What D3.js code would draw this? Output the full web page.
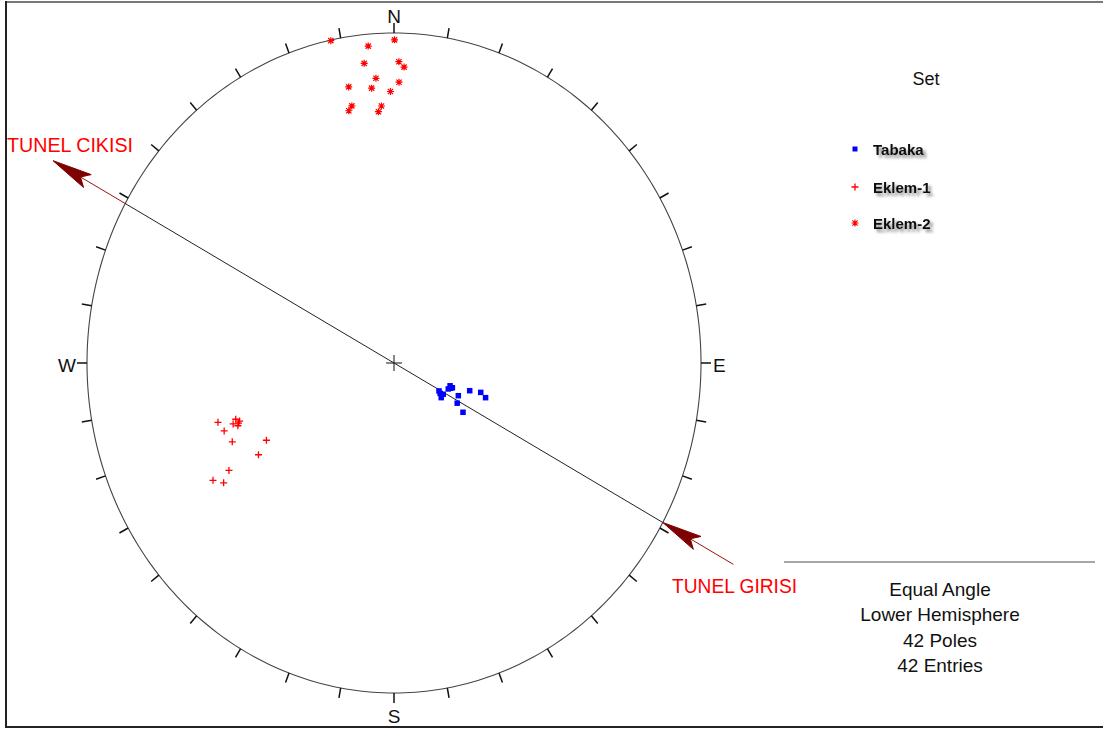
<!DOCTYPE html>
<html>
<head>
<meta charset="utf-8">
<script src="https://cdn.jsdelivr.net/npm/d3@7"></script>
<style>
  html, body { margin: 0; padding: 0; background: #fff; }
  svg { display: block; font-family: "Liberation Sans", Arial, sans-serif; }
</style>
</head>
<body>
<svg id="chart" width="1103" height="729"></svg>
<script>
// ---- Data (trend, plunge of poles, degrees) ----
const tabakaTrend  = [120.0, 120.6, 124.3, 110.7, 111.5, 114.0, 115.3, 120.6, 108.8, 107.5, 109.4, 123.6, 112.5, 121.5];
const tabakaPlunge = [70.8, 68.9, 68.9, 67.9, 66.9, 68.1, 63.9, 63.1, 60.8, 57.0, 54.9, 59.8, 67.4, 70.0];

const eklem1Trend  = [252.6, 251.7, 250.7, 250.6, 249.5, 249.6, 245.6, 240.6, 237.8, 238.8, 238.9, 236.8, 250.2];
const eklem1Plunge = [28.0, 33.0, 33.9, 31.9, 33.0, 28.9, 29.9, 39.0, 34.9, 25.7, 20.9, 22.9, 33.4];

const eklem2Trend  = [348.1, 355.0, 0.1, 353.9, 1.0, 2.1, 356.1, 1.1, 350.0, 355.0, 359.2, 350.0, 349.1, 357.0, 356.2];
const eklem2Plunge = [0.1, 2.1, 1.2, 5.2, 5.2, 6.2, 8.3, 9.2, 9.3, 10.2, 11.1, 13.3, 14.2, 14.1, 15.3];

const tunnelTrend = 118.9; // tunnel axis (entry side)
const tickTrends = d3.range(0, 360, 10);
const cardinalLabels = ["N", "E", "S", "W"];
const cardinalTrends = [0, 90, 180, 270];
const legendNames = ["Tabaka", "Eklem-1", "Eklem-2"];
const infoLines = ["Equal Angle", "Lower Hemisphere", "42 Poles", "42 Entries"];
const arrowLabels = ["TUNEL CIKISI", "TUNEL GIRISI"];

// ---- Layout ----
const cx = 394, cy = 363, rx = 307, ry = 330;
const svg = d3.select("#chart");
const xS = d3.scaleLinear().domain([-1, 1]).range([cx - rx, cx + rx]);
const yS = d3.scaleLinear().domain([-1, 1]).range([cy + ry, cy - ry]);
const rad = d => d * Math.PI / 180;
function project(trend, plunge) {
  const r = Math.tan(rad(90 - plunge) / 2); // equal angle
  return [xS(r * Math.sin(rad(trend))), yS(r * Math.cos(rad(trend)))];
}

// defs: text shadow
const defs = svg.append("defs");
const f = defs.append("filter").attr("id", "shadow").attr("x", "-20%").attr("y", "-50%").attr("width", "150%").attr("height", "220%");
f.append("feDropShadow").attr("dx", 3).attr("dy", 3).attr("stdDeviation", 1.6)
  .attr("flood-color", "#000").attr("flood-opacity", 0.45);

// frame
svg.append("line").attr("x1", 6).attr("y1", 2).attr("x2", 1103).attr("y2", 2).attr("stroke", "#777").attr("stroke-width", 2);
svg.append("line").attr("x1", 6).attr("y1", 1).attr("x2", 6).attr("y2", 728).attr("stroke", "#222").attr("stroke-width", 2);
svg.append("line").attr("x1", 6).attr("y1", 727).attr("x2", 1103).attr("y2", 727).attr("stroke", "#222").attr("stroke-width", 2);

// primitive circle
const prim = d3.range(0, 361, 1).map(t => project(t, 0));
svg.append("path").attr("d", d3.line()(prim)).attr("fill", "none").attr("stroke", "#444").attr("stroke-width", 1.1);

// ticks
const L = 10;
svg.append("g").selectAll("line").data(tickTrends).join("line")
  .attr("x1", t => xS(Math.sin(rad(t))))
  .attr("y1", t => yS(Math.cos(rad(t))))
  .attr("x2", t => xS(Math.sin(rad(t)) * (1 + L / rx)))
  .attr("y2", t => yS(Math.cos(rad(t)) * (1 + L / ry)))
  .attr("stroke", "#111").attr("stroke-width", 1.5);

// cardinal labels
const cardPos = [
  { x: xS(0), y: yS(1) - 10, anchor: "middle" },
  { x: xS(1) + 12, y: cy + 9, anchor: "start" },
  { x: xS(0), y: yS(-1) + 30, anchor: "middle" },
  { x: xS(-1) - 11, y: cy + 9, anchor: "end" }
];
svg.append("g").selectAll("text").data(cardinalLabels).join("text")
  .attr("x", (d, i) => cardPos[i].x).attr("y", (d, i) => cardPos[i].y)
  .attr("text-anchor", (d, i) => cardPos[i].anchor)
  .attr("font-size", 19).attr("fill", "#111").text(d => d);

// center cross
svg.append("line").attr("x1", cx - 8).attr("x2", cx + 8).attr("y1", cy).attr("y2", cy).attr("stroke", "#111");
svg.append("line").attr("x1", cx).attr("x2", cx).attr("y1", cy - 8).attr("y2", cy + 8).attr("stroke", "#111");

// tunnel axis
const pIn = project(tunnelTrend, 0);
const pOut = project(tunnelTrend + 180, 0);
svg.append("line").attr("x1", pOut[0]).attr("y1", pOut[1]).attr("x2", pIn[0]).attr("y2", pIn[1])
  .attr("stroke", "#222").attr("stroke-width", 1);

const dx = pIn[0] - cx, dy = pIn[1] - cy, dl = Math.hypot(dx, dy);
const ux = dx / dl, uy = dy / dl;
const arrowColor = "#7f0000";
function arrow(tip, dirx, diry, shaftLen) {
  // dir = unit vector from tip towards tail
  const headLen = 40, notch = 32, half = 7.5;
  const px = -diry, py = dirx;
  const bx = tip[0] + dirx * headLen, by = tip[1] + diry * headLen;
  const nx = tip[0] + dirx * notch, ny = tip[1] + diry * notch;
  svg.append("line").attr("x1", nx).attr("y1", ny)
    .attr("x2", tip[0] + dirx * shaftLen).attr("y2", tip[1] + diry * shaftLen)
    .attr("stroke", "#a01010").attr("stroke-width", 1);
  svg.append("path")
    .attr("d", `M${tip[0]},${tip[1]} L${bx + px * half},${by + py * half} L${nx},${ny} L${bx - px * half},${by - py * half} Z`)
    .attr("fill", arrowColor).attr("stroke", arrowColor).attr("stroke-width", 1);
}
// exit arrow (upper-left), tip outside the circle
const exitTip = [pOut[0] - ux * 84, pOut[1] - uy * 84];
arrow(exitTip, ux, uy, 84);
// entry arrow (lower-right), tip on the circle
arrow(pIn, ux, uy, 82);

svg.append("text").attr("x", 7).attr("y", 152).attr("fill", "#ff0000").attr("font-size", 21)
  .attr("textLength", 126).attr("lengthAdjust", "spacingAndGlyphs").text(arrowLabels[0]);
svg.append("text").attr("x", 672).attr("y", 593).attr("fill", "#ff0000").attr("font-size", 20)
  .attr("textLength", 125).attr("lengthAdjust", "spacingAndGlyphs").text(arrowLabels[1]);

// symbols
function drawSquare(g, x, y, s) {
  g.append("rect").attr("x", x - s / 2).attr("y", y - s / 2).attr("width", s).attr("height", s).attr("fill", "#0000ff");
}
function drawPlus(g, x, y, s) {
  g.append("path").attr("d", `M${x - s},${y}H${x + s}M${x},${y - s}V${y + s}`).attr("stroke", "#ff0000").attr("stroke-width", 1.3).attr("fill", "none");
}
function drawStar(g, x, y, s) {
  const d = s * 0.75;
  g.append("path").attr("d", `M${x - s},${y}H${x + s}M${x},${y - s}V${y + s}M${x - d},${y - d}L${x + d},${y + d}M${x - d},${y + d}L${x + d},${y - d}`)
    .attr("stroke", "#ff0000").attr("stroke-width", 1.2).attr("fill", "none");
}

const gPts = svg.append("g");
tabakaTrend.forEach((t, i) => { const p = project(t, tabakaPlunge[i]); drawSquare(gPts, p[0], p[1], 5.5); });
eklem1Trend.forEach((t, i) => { const p = project(t, eklem1Plunge[i]); drawPlus(gPts, p[0], p[1], 3.5); });
eklem2Trend.forEach((t, i) => { const p = project(t, eklem2Plunge[i]); drawStar(gPts, p[0], p[1], 3.5); });

// legend
svg.append("text").attr("x", 926).attr("y", 85).attr("text-anchor", "middle").attr("font-size", 18).attr("fill", "#111").text("Set");
const legY = [149, 187, 223];
const gLeg = svg.append("g");
drawSquare(gLeg, 855, legY[0], 5);
drawPlus(gLeg, 855, legY[1], 3.5);
drawStar(gLeg, 855, legY[2], 3.5);
gLeg.selectAll("text").data(legendNames).join("text")
  .attr("x", 873).attr("y", (d, i) => legY[i] + 6)
  .attr("font-size", 15).attr("font-weight", "bold").attr("fill", "#111")
  .attr("filter", "url(#shadow)").text(d => d);

// info block
svg.append("line").attr("x1", 784).attr("x2", 1095).attr("y1", 562).attr("y2", 562).attr("stroke", "#888").attr("stroke-width", 1.5);
svg.append("g").selectAll("text").data(infoLines).join("text")
  .attr("x", 940).attr("y", (d, i) => 596 + i * 25.3)
  .attr("text-anchor", "middle").attr("font-size", 19).attr("fill", "#111").text(d => d);
</script>
</body>
</html>
